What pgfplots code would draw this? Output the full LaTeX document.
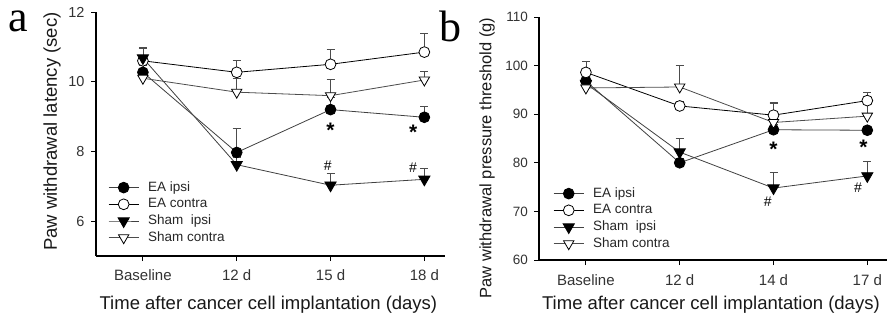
\documentclass[border=0pt]{standalone}
\usepackage{pgfplots}
\pgfplotsset{compat=1.18}
\usepackage{fontspec}
\setmainfont{Liberation Sans}
\newfontfamily\seriffont{Liberation Serif}
\begin{document}
\begin{tikzpicture}
\useasboundingbox (0pt,0pt) rectangle (889pt,322pt);
\pgfplotsset{
  every axis/.append style={
    scale only axis,
    axis lines=left,
    axis line style={-, line width=1.2pt, black},
    tick align=outside,
    major tick length=5pt,
    every tick/.style={line width=1pt, black},
    xtick={0,1,2,3},
    xticklabels={Baseline,12 d,15 d,18 d},
    xmin=-0.5, xmax=3.22,
    clip=false,
    /pgf/number format/assume math mode=true,
    ticklabel style={font=\fontsize{15}{17}\selectfont, text=black!80},
    xticklabel style={yshift=-5.5pt},
    label style={font=\fontsize{18.5}{20}\selectfont, text=black!90},
    legend style={draw=none, fill=none, font=\fontsize{13.5}{16}\selectfont,
      nodes={inner sep=0pt, text height=10pt, text depth=3pt, text=black!85},
      row sep=3.7pt, /tikz/every odd column/.append style={column sep=9pt}},
    legend cell align=left,
    legend image code/.code={\draw[mark repeat=2,mark phase=2,##1] plot coordinates {(0pt,0pt) (15pt,0pt) (30pt,0pt)};},
    error bars/error bar style={line width=0.8pt, black!70},
    error bars/error mark options={rotate=90, mark size=4pt, line width=0.8pt, black!70},
  },
}
\tikzset{
  eaipsi/.style={line width=0.8pt, black!75, mark=*, mark options={solid, fill=black, draw=black, mark size=5.4pt, line width=0.8pt}},
  eacontra/.style={line width=0.8pt, black, mark=*, mark options={solid, fill=white, draw=black, mark size=5.4pt, line width=0.8pt}},
  shamipsi/.style={line width=0.8pt, black!75, mark=triangle*, mark options={solid, rotate=180, fill=black, draw=black, mark size=6.5pt, line width=0.8pt}},
  shamcontra/.style={line width=0.8pt, black!70, mark=triangle*, mark options={solid, rotate=180, fill=white, draw=black, mark size=6pt, line width=0.8pt}},
  star/.style={font=\fontsize{21}{21}\selectfont\bfseries, inner sep=0pt, anchor=base, yshift=-11.5pt},
  hash/.style={font=\fontsize{14}{14}\selectfont, inner sep=0pt, anchor=center},
}
% ---------------- panel a ----------------
\begin{axis}[
  at={(96pt,66pt)}, anchor=south west,
  width=349pt, height=244pt,
  ymin=5, ymax=12, ytick={6,8,10,12},
  yticklabel style={xshift=-3pt, font=\fontsize{14.5}{16}\selectfont},
  xlabel={Time after cancer cell implantation (days)},
  ylabel={Paw withdrawal latency (sec)},
  xlabel style={at={(axis description cs:0.494,-0.2)}, anchor=center},
  ylabel style={at={(axis description cs:-0.126,0.51)}, anchor=center},
  legend style={at={(axis description cs:0.026,0.316)}, anchor=north west},
]
\addplot[eaipsi, error bars/.cd, y dir=plus, y explicit] coordinates {
  (0,10.27) +- (0,0.2) (1,7.97) +- (0,0.7) (2,9.2) +- (0,0.35) (3,8.98) +- (0,0.32)};
\addlegendentry{EA ipsi}
\addplot[eacontra, error bars/.cd, y dir=plus, y explicit] coordinates {
  (0,10.6) +- (0,0.35) (1,10.27) +- (0,0.33) (2,10.5) +- (0,0.43) (3,10.85) +- (0,0.55)};
\addlegendentry{EA contra}
\addplot[shamipsi, error bars/.cd, y dir=plus, y explicit] coordinates {
  (0,10.68) +- (0,0.3) (1,7.62) +- (0,0.2) (2,7.03) +- (0,0.34) (3,7.2) +- (0,0.3)};
\addlegendentry{Sham ~ipsi}
\addplot[shamcontra, error bars/.cd, y dir=plus, y explicit] coordinates {
  (0,10.1) +- (0,0.2) (1,9.7) +- (0,0.4) (2,9.6) +- (0,0.47) (3,10.05) +- (0,0.25)};
\addlegendentry{Sham contra}
\node[star] at (axis cs:2,8.72) {*};
\node[star] at (axis cs:2.88,8.66) {*};
\node[hash] at (axis cs:1.97,7.6) {\#};
\node[hash] at (axis cs:2.88,7.54) {\#};
\end{axis}
% ---------------- panel b ----------------
\begin{axis}[
  at={(539pt,62pt)}, anchor=south west,
  width=348pt, height=243pt,
  ymin=60, ymax=110, ytick={60,70,80,90,100,110},
  xticklabels={Baseline,12 d,14 d,17 d},
  xmax=3.21,
  yticklabel style={xshift=-2.5pt, font=\fontsize{13.5}{15}\selectfont},
  xticklabel style={yshift=-1pt},
  xlabel={Time after cancer cell implantation (days)},
  ylabel={Paw withdrawal pressure threshold (g)},
  xlabel style={at={(axis description cs:0.494,-0.185)}, anchor=center},
  ylabel style={at={(axis description cs:-0.149,0.42)}, anchor=center, font=\fontsize{16.5}{18}\selectfont},
  legend style={at={(axis description cs:0.032,0.309)}, anchor=north west},
]
\addplot[eaipsi, error bars/.cd, y dir=plus, y explicit] coordinates {
  (0,96.8) +- (0,2.4) (1,80) +- (0,1) (2,86.8) +- (0,1.2) (3,86.7) +- (0,0.8)};
\addlegendentry{EA ipsi}
\addplot[eacontra, error bars/.cd, y dir=plus, y explicit] coordinates {
  (0,98.6) +- (0,2.2) (1,91.7) +- (0,1) (2,89.8) +- (0,2.6) (3,92.8) +- (0,1.7)};
\addlegendentry{EA contra}
\addplot[shamipsi, error bars/.cd, y dir=plus, y explicit] coordinates {
  (0,96.3) +- (0,1) (1,82.2) +- (0,2.9) (2,74.8) +- (0,3.2) (3,77.3) +- (0,3)};
\addlegendentry{Sham ~ipsi}
\addplot[shamcontra, error bars/.cd, y dir=plus, y explicit] coordinates {
  (0,95.4) +- (0,1.3) (1,95.6) +- (0,4.4) (2,88.3) +- (0,4) (3,89.6) +- (0,2.5)};
\addlegendentry{Sham contra}
\node[star] at (axis cs:2,83.6) {*};
\node[star] at (axis cs:2.96,84) {*};
\node[hash] at (axis cs:1.94,72) {\#};
\node[hash] at (axis cs:2.9,74.8) {\#};
\end{axis}
\node[font=\seriffont\fontsize{44}{44}\selectfont, anchor=base west, inner sep=0pt] at (8.5pt,290pt) {a};
\node[font=\seriffont\fontsize{44}{44}\selectfont, anchor=base west, inner sep=0pt] at (439pt,280pt) {b};
\end{tikzpicture}
\end{document}
